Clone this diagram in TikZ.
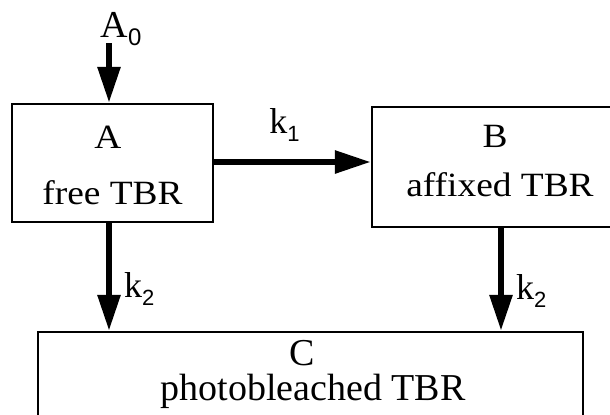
\documentclass[tikz,border=0pt]{standalone}
\usepackage{fontspec}
\usepackage{tikz}
\usetikzlibrary{arrows.meta, positioning}
\setmainfont{Liberation Serif}
\newfontfamily\sansfont{Liberation Sans}
\newfontfamily\boxfont[FakeStretch=1.1]{Liberation Serif}
\newcommand{\ksub}[2][11]{\raisebox{-4pt}{\fontsize{#1}{#1}\selectfont\sansfont #2}}
\tikzset{
  species/.style={rectangle, draw=black, line width=1.25pt, inner sep=0pt},
  boxtext/.style={anchor=base, inner sep=0pt, font=\fontsize{17}{19}\selectfont\boxfont},
  bigtext/.style={anchor=base, inner sep=0pt, font=\fontsize{19}{21}\selectfont},
  ratelabel/.style={inner sep=0pt, font=\fontsize{18}{20}\selectfont},
  flow/.style={line width=3pt, -{Triangle[length=18pt,width=11pt]}}
}
\begin{document}
\begin{tikzpicture}[x=0.5pt, y=-0.5pt]
\useasboundingbox (0,0) rectangle (610,414);
\clip (0,0) rectangle (610,414);
% compartments
\node (A) [species, minimum width=100.5pt, minimum height=59pt] at (112.5,163) {};
\node (B) [species, minimum width=129pt, minimum height=60pt] at (501,167) {};
\node (C) [species, minimum width=272.5pt, minimum height=58pt] at (310.5,390) {};
\node (Aname) [boxtext] at (108,148)   {A};
\node (Adesc) [boxtext] at (112.5,204) {free TBR};
\node (Bname) [boxtext] at (495,147)   {B};
\node (Bdesc) [boxtext] at (500,196)   {affixed TBR};
\node (Cname) [bigtext] at (302,365)   {C};
\node (Cdesc) [bigtext] at (313,400)   {photobleached TBR};
% source
\node (src) [anchor=base, inner sep=0pt, font=\fontsize{19}{21}\selectfont]
  at (121,37) {A\ksub[12]{0}};
\coordinate (in) at (109,43);
% transitions
\draw[flow] (in) -- (in |- A.north);
\draw[flow] ([yshift=0.5pt]A.east) --
  node[ratelabel, above=9pt, xshift=-4pt] {k\ksub{1}} ([yshift=0.5pt]A.east -| B.west);
\draw[flow] ([xshift=-1.75pt]A.south) --
  node[ratelabel, right=6pt, yshift=-6pt] {k\ksub{2}} ([xshift=-1.75pt]A.south |- C.north);
\draw[flow] (B.south) --
  node[ratelabel, right=6pt, yshift=-6pt] {k\ksub{2}} (B.south |- C.north);
\end{tikzpicture}
\end{document}
